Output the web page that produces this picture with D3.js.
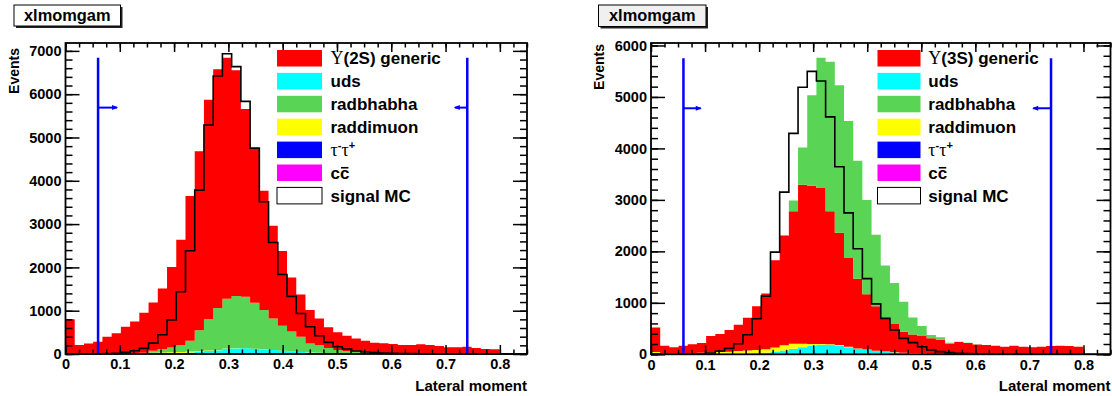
<!DOCTYPE html>
<html><head><meta charset="utf-8">
<script src="https://cdn.jsdelivr.net/npm/d3@7"></script>
<style>
body{margin:0;background:#fff;}
svg text{font-family:"Liberation Sans",Arial,Helvetica,sans-serif;font-weight:bold;fill:#000;}
</style></head><body>
<svg id="c" width="1112" height="396"></svg>
<script>
// ---------------- data ----------------
const xRange = [0, 0.85];
const nBins = 50;
const xTicks = [0, 0.1, 0.2, 0.3, 0.4, 0.5, 0.6, 0.7, 0.8];
const xTickLabels = ["0", "0.1", "0.2", "0.3", "0.4", "0.5", "0.6", "0.7", "0.8"];
const yTicksLeft = [0, 1000, 2000, 3000, 4000, 5000, 6000, 7000];
const yTicksRight = [0, 1000, 2000, 3000, 4000, 5000, 6000];
const histTitle = "xlmomgam";
const xTitle = "Lateral moment";
const yTitle = "Events";
const legendLabelsLeft = ["#Upsilon(2S) generic", "uds", "radbhabha", "raddimuon", "#tau^{-}#tau^{+}", "c#bar{c}", "signal MC"];
const legendLabelsRight = ["#Upsilon(3S) generic", "uds", "radbhabha", "raddimuon", "#tau^{-}#tau^{+}", "c#bar{c}", "signal MC"];
const cutValues = [0.06, 0.74];
const cutLineTops = [6840, 5750];
const cutArrowLevels = [5690, 4780];
const cutArrowLenLeft = [0.035, -0.023];
const cutArrowLenRight = [0.032, -0.033];

// left panel (Upsilon(2S))
const genericL = [798,204,244,281,393,467,611,726,925,1115,
  1400,1860,2435,3345,4130,5070,5515,5565,5210,4340,
  3570,2755,2140,1730,1245,975,770,620,475,408,
  352,305,267,232,222,212,193,200,220,201,
  182,151,152,162,135,115,109,8,6,4];
const udsL = [0,0,0,0,0,1,1,2,3,4, 5,10,15,25,40,60,80,115,125,125,
  115,100,85,70,55,45,35,25,20,15, 10,8,6,5,4,3,3,2,2,2, 1,1,1,1,1,1,1,0,0,0];
const radbhabhaL = [0,0,0,0,1,2,3,4,6,45, 80,107,156,248,485,721,965,1148,1205,1185,
  1062,908,728,574,461,351,207,172,117,74, 59,46,33,24,19,14,10,7,5,3, 2,2,1,1,1,1,1,0,0,0];
const raddimuonL = [2,1,1,2,5,8,10,15,17,22, 25,28,28,25,18,12,8,5,4,3,
  3,2,2,2,1,1,1,1,1,1, 1,1,1,1,1,1,1,1,1,1, 1,1,1,1,1,1,1,0,0,0];
const tautauL = [0,0,0,0,0,1,1,1,2,2, 2,2,3,3,3,3,3,3,3,3,
  2,2,2,2,1,1,1,1,1,1, 0,0,0,0,0,0,0,0,0,0, 0,0,0,0,0,0,0,0,0,0];
const ccbarL = [0,0,0,0,1,1,1,2,2,2, 3,3,3,4,4,4,4,4,4,4,
  3,3,3,2,2,2,1,1,1,1, 0,0,0,0,0,0,0,0,0,0, 0,0,0,0,0,0,0,0,0,0];
const signalL = [3,2,2,3,8,15,38,76,130,252, 443,787,1437,2385,3785,5290,6420,6934,6636,5833,
  4755,3517,2576,1835,1330,937,630,422,269,169, 115,69,46,31,20,14,10,8,6,5, 4,3,3,2,2,2,1,0,0,0];

// right panel (Upsilon(3S))
const genericR = [480,141,111,141,168,188,318,348,419,513,
  639,853,1081,1695,2125,2573,3090,3076,3031,2582,
  2181,1722,1355,1072,866,638,559,408,363,336,
  297,274,202,229,214,186,175,163,144,164,
  146,133,146,159,166,159,146,6,5,4];
const udsR = [0,0,0,0,0,1,1,2,3,5, 8,12,20,35,65,95,125,160,175,175,
  160,130,100,80,58,43,33,25,18,13, 10,8,6,5,4,3,3,2,2,2, 1,1,1,1,1,1,1,0,0,0];
const radbhabhaR = [0,0,0,0,0,0,0,0,0,0, 0,0,0,0,20,207,722,1754,2528,2905,
  2865,2665,2290,1833,1390,1033,787,579,329,193, 64,44,15,8,5,3,2,2,1,1, 0,0,0,0,0,0,0,0,0,0];
const raddimuonR = [40,25,22,22,24,27,32,38,42,50, 58,62,70,85,100,100,70,30,15,12,
  10,10,8,8,6,5,4,4,3,3, 2,2,2,2,2,1,1,1,1,1, 1,1,1,1,1,1,1,0,0,0];
const tautauR = [0,0,0,0,1,1,1,1,2,2, 2,2,3,3,3,3,3,3,3,3,
  2,2,2,2,1,1,1,1,1,1, 0,0,0,0,0,0,0,0,0,0, 0,0,0,0,0,0,0,0,0,0];
const ccbarR = [3,2,2,2,2,3,3,4,4,5, 5,6,6,7,7,8,8,8,8,7,
  7,6,5,5,4,3,3,2,2,2, 1,1,1,1,1,1,0,0,0,0, 0,0,0,0,0,0,0,0,0,0];
const signalR = [3,2,2,3,5,8,25,65,116,205, 380,690,1130,1985,3150,4293,5187,5496,5310,4613,
  3645,2748,2052,1471,980,697,471,310,226,148, 84,52,32,19,13,8,6,5,4,3, 3,2,2,2,1,1,1,0,0,0];

// ---------------- styles ----------------
const colors = {generic:"#ff0000", uds:"#00ffff", radbhabha:"#59d454", raddimuon:"#ffff00", tautau:"#0000ff", ccbar:"#ff00ff"};
const legendKeys = ["generic","uds","radbhabha","raddimuon","tautau","ccbar","signal"];

const panels = [
  {fx0:65.5, fx1:527, fy0:43, fy1:354,
   keys:["ccbar","tautau","uds","raddimuon","radbhabha","generic"],
   data:{generic:genericL, uds:udsL, radbhabha:radbhabhaL, raddimuon:raddimuonL, tautau:tautauL, ccbar:ccbarL},
   signal:signalL, yTicks:yTicksLeft, labels:legendLabelsLeft,
   title:{x:14, y:5, w:106.5, h:21, fill:"#ffffff"},
   leg:{sx:277, sw:45, tx:330.5}, ev:{x:19, y:48},
   cutTop:cutLineTops[0], arrowLevel:cutArrowLevels[0], arrowLen:cutArrowLenLeft},
  {fx0:651, fx1:1110.5, fy0:43, fy1:354.3,
   keys:["ccbar","tautau","uds","raddimuon","generic","radbhabha"],
   data:{generic:genericR, uds:udsR, radbhabha:radbhabhaR, raddimuon:raddimuonR, tautau:tautauR, ccbar:ccbarR},
   signal:signalR, yTicks:yTicksRight, labels:legendLabelsRight,
   title:{x:598.5, y:5, w:107.5, h:21.5, fill:"#f0f0f0"},
   leg:{sx:877.5, sw:43, tx:928.3}, ev:{x:604, y:44},
   cutTop:cutLineTops[1], arrowLevel:cutArrowLevels[1], arrowLen:cutArrowLenRight}
];

const svg = d3.select("#c");
const binW = (xRange[1]-xRange[0])/nBins;

function latex(textSel, s, baseSize){
  const tokens=[]; let i=0;
  while(i<s.length){
    if(s.startsWith("#Upsilon",i)){tokens.push({t:"\u03A5",serif:1}); i+=8;}
    else if(s.startsWith("#tau",i)){tokens.push({t:"\u03C4",serif:1}); i+=4;}
    else if(s.startsWith("^{",i)){const j=s.indexOf("}",i); tokens.push({t:s.slice(i+2,j),sup:1}); i=j+1;}
    else if(s.startsWith("#bar{",i)){const j=s.indexOf("}",i); tokens.push({t:s.slice(i+5,j),bar:1}); i=j+1;}
    else {let j=i; while(j<s.length && s[j]!=="#" && s[j]!=="^") j++; tokens.push({t:s.slice(i,j)}); i=j;}
  }
  let idx=0, prevSup=false; const bars=[];
  tokens.forEach(tk=>{
    const ts=textSel.append("tspan").text(tk.t);
    if(tk.serif) ts.attr("font-family","'Liberation Serif','DejaVu Serif',serif").attr("font-weight","normal").attr("font-size",(baseSize+1)+"px");
    if(tk.sup){ts.attr("font-size",(baseSize*0.65)+"px").attr("dy",-7);}
    else if(prevSup){ts.attr("dy",7);}
    if(tk.bar) bars.push({start:idx, n:tk.t.length});
    prevSup=!!tk.sup;
    idx+=tk.t.length;
  });
  return bars;
}

panels.forEach(p=>{
  const g = svg.append("g");
  const x = d3.scaleLinear().domain(xRange).range([p.fx0, p.fx1]);
  const rows = d3.range(nBins).map(i=>{const o={i}; p.keys.forEach(k=>o[k]=p.data[k][i]); return o;});
  const stacked = d3.stack().keys(p.keys)(rows);
  const totals = rows.map(r=>d3.sum(p.keys, k=>r[k]));
  const ymax = 1.05*d3.max(totals);
  const y = d3.scaleLinear().domain([0, ymax]).range([p.fy1, p.fy0]);

  // stacked histogram layers
  const area = d3.area().curve(d3.curveStepAfter).x(d=>x(d.xv)).y0(d=>y(d.lo)).y1(d=>y(d.hi));
  stacked.forEach(layer=>{
    const pts = layer.map((d,i)=>({xv:i*binW, lo:d[0], hi:d[1]}));
    const last = layer[layer.length-1];
    pts.push({xv:nBins*binW, lo:last[0], hi:last[1]});
    g.append("path").attr("d", area(pts)).attr("fill", colors[layer.key]);
  });

  // signal MC outline
  const spts = p.signal.map((v,i)=>[i*binW, v]);
  spts.push([nBins*binW, p.signal[nBins-1]]);
  const line = d3.line().curve(d3.curveStepAfter).x(d=>x(d[0])).y(d=>y(d[1]));
  g.append("path").attr("d", line(spts)).attr("fill","none").attr("stroke","#000").attr("stroke-width",1.6);

  // cut lines and arrows
  cutValues.forEach((c,ci)=>{
    g.append("line").attr("x1",x(c)).attr("x2",x(c)).attr("y1",y(0)).attr("y2",y(p.cutTop))
      .attr("stroke","#0000ff").attr("stroke-width",2.5);
    const x2 = x(c+p.arrowLen[ci]);
    const ya = y(p.arrowLevel);
    g.append("line").attr("x1",x(c)).attr("x2",x2).attr("y1",ya).attr("y2",ya)
      .attr("stroke","#0000ff").attr("stroke-width",2);
    const dir = Math.sign(p.arrowLen[ci]);
    g.append("path").attr("d",`M${x2+dir},${ya}L${x2-dir*5},${ya-2.5}L${x2-dir*5},${ya+2.5}Z`).attr("fill","#0000ff");
  });

  // axes
  const tickStyle = sel=>{sel.select(".domain").remove(); sel.selectAll("line").attr("stroke","#000").attr("stroke-width",1.5);};
  const xMinor = d3.range(0, xRange[1]+1e-9, 0.025);
  const yMinor = d3.range(0, ymax, 200);
  const xb = g.append("g").attr("transform",`translate(0,${p.fy1})`)
    .call(d3.axisBottom(x).tickValues(xTicks).tickFormat((d,i)=>xTickLabels[i]).tickSize(-9).tickPadding(5));
  tickStyle(xb);
  xb.selectAll("text").attr("font-size","14.5px").attr("font-family",null);
  g.append("g").attr("transform",`translate(0,${p.fy1})`).call(d3.axisBottom(x).tickValues(xMinor).tickFormat("").tickSize(-4.5)).call(tickStyle);
  g.append("g").attr("transform",`translate(0,${p.fy0})`).call(d3.axisTop(x).tickValues(xTicks).tickFormat("").tickSize(-9)).call(tickStyle);
  g.append("g").attr("transform",`translate(0,${p.fy0})`).call(d3.axisTop(x).tickValues(xMinor).tickFormat("").tickSize(-4.5)).call(tickStyle);
  const yl = g.append("g").attr("transform",`translate(${p.fx0},0)`)
    .call(d3.axisLeft(y).tickValues(p.yTicks).tickFormat(d3.format("d")).tickSize(-14).tickPadding(4));
  tickStyle(yl);
  yl.selectAll("text").attr("font-size","14.5px").attr("font-family",null);
  g.append("g").attr("transform",`translate(${p.fx0},0)`).call(d3.axisLeft(y).tickValues(yMinor).tickFormat("").tickSize(-7)).call(tickStyle);
  g.append("g").attr("transform",`translate(${p.fx1},0)`).call(d3.axisRight(y).tickValues(p.yTicks).tickFormat("").tickSize(-14)).call(tickStyle);
  g.append("g").attr("transform",`translate(${p.fx1},0)`).call(d3.axisRight(y).tickValues(yMinor).tickFormat("").tickSize(-7)).call(tickStyle);

  // frame
  g.append("rect").attr("x",p.fx0).attr("y",p.fy0).attr("width",p.fx1-p.fx0).attr("height",p.fy1-p.fy0)
    .attr("fill","none").attr("stroke","#000").attr("stroke-width",1.8);

  // axis titles
  g.append("text").attr("x",p.fx1).attr("y",391).attr("text-anchor","end").attr("font-size","15px").text(xTitle);
  g.append("text").attr("transform",`translate(${p.ev.x},${p.ev.y}) rotate(-90)`).attr("text-anchor","end").attr("font-size","14px").text(yTitle);

  // title box
  const t = p.title;
  g.append("rect").attr("x",t.x+2).attr("y",t.y+2).attr("width",t.w).attr("height",t.h).attr("fill","#222");
  g.append("rect").attr("x",t.x).attr("y",t.y).attr("width",t.w).attr("height",t.h).attr("fill",t.fill).attr("stroke","#000").attr("stroke-width",1);
  g.append("text").attr("x",t.x+t.w/2).attr("y",t.y+15.5).attr("text-anchor","middle").attr("font-size","16.4px").text(histTitle);

  // legend
  const rowH = 22.9, sTop = 50, sH = 16.5;
  legendKeys.forEach((k,i)=>{
    const yy = sTop + i*rowH;
    g.append("rect").attr("x",p.leg.sx).attr("y",yy).attr("width",p.leg.sw).attr("height",sH)
      .attr("fill", k==="signal" ? "#fff" : colors[k])
      .attr("stroke", k==="signal" ? "#000" : "none").attr("stroke-width",1);
    const base = yy + sH/2 + 6;
    const tx = g.append("text").attr("x",p.leg.tx).attr("y",base).attr("font-size","17px");
    const bars = latex(tx, p.labels[i], 17);
    const node = tx.node();
    bars.forEach(b=>{
      const e0 = node.getExtentOfChar(b.start);
      const e1 = node.getExtentOfChar(b.start+b.n-1);
      g.append("line").attr("x1",e0.x+1).attr("x2",e1.x+e1.width-1)
        .attr("y1",base-11).attr("y2",base-11).attr("stroke","#000").attr("stroke-width",1.6);
    });
  });
});
</script>
</body></html>
